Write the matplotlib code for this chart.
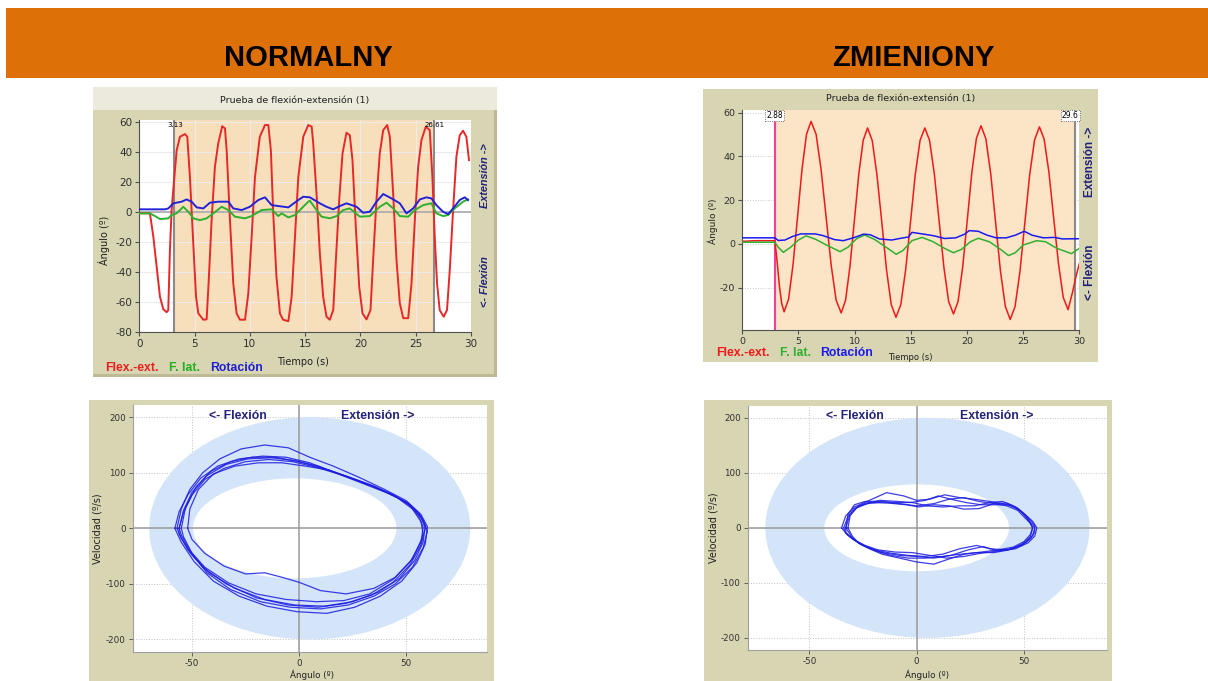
import matplotlib
matplotlib.use("Agg")
import matplotlib.pyplot as plt
from matplotlib.patches import Rectangle, Ellipse

plt.rcParams['axes.unicode_minus'] = False
plt.rcParams['font.family'] = ['DejaVu Sans']

# ---------------- DATA ----------------
panel_titles = ["NORMALNY", "ZMIENIONY"]
chart_title = "Prueba de flexión-extensión (1)"
series_names = ["Flex.-ext.", "F. lat.", "Rotación"]

# Normal: time series (t [s], angle [deg])
normal_flex = [(0.0, -1), (0.96, -1), (1.27, -16.7), (1.57, -36.7), (1.87, -56.7), (2.17, -65),
               (2.47, -67), (2.62, -65.6), (2.77, -25.6), (2.92, 1), (3.17, 23), (3.38, 41),
               (3.68, 50), (4.13, 51.8), (4.34, 50), (4.58, 23), (4.88, -21), (5.13, -56.7),
               (5.34, -67.8), (5.79, -72), (6.09, -71.8), (6.3, -43), (6.54, -5.6), (6.84, 30),
               (7.14, 45.6), (7.5, 57), (7.75, 55.6), (7.9, 41), (8.2, -5.6), (8.5, -47.8),
               (8.8, -67.8), (9.1, -72), (9.56, -72), (9.86, -54.4), (10.16, -16.7), (10.46, 23),
               (10.9, 50), (11.37, 57.8), (11.67, 57.8), (11.9, 41), (12.1, 1), (12.4, -43),
               (12.72, -67.8), (13.0, -72), (13.48, -73), (13.78, -56.7), (14.08, -16.7), (14.38, 23),
               (14.83, 50), (15.28, 57.8), (15.59, 56.7), (15.73, 45.6), (16.03, 12), (16.33, -27.8),
               (16.63, -56.7), (16.93, -70), (17.23, -72), (17.54, -65.6), (17.78, -32), (18.08, 7.8),
               (18.38, 38.9), (18.74, 52.7), (19.04, 51), (19.28, 34.4), (19.58, -10), (19.89, -50),
               (20.19, -67.8), (20.55, -71.8), (20.91, -65.6), (21.15, -32), (21.45, 7.8), (21.75, 38.9),
               (22.06, 54.4), (22.42, 57.8), (22.66, 50), (22.96, 12), (23.26, -32), (23.56, -61),
               (23.87, -71), (24.32, -71), (24.62, -47.8), (24.92, -5.6), (25.22, 30), (25.52, 47.8),
               (25.91, 56.7), (26.27, 54.4), (26.51, 23), (26.72, -16.7), (26.93, -47.8), (27.17, -65.6),
               (27.53, -70), (27.83, -65.6), (28.08, -38.9), (28.38, 1), (28.68, 36.7), (28.98, 51),
               (29.28, 54), (29.58, 50), (29.82, 34.4)]
normal_lat = [(0, -1.1), (0.96, -1.1), (1.42, -2.9), (1.87, -4.9), (2.62, -4.4), (2.92, -2.2), (3.38, -1),
              (3.98, 3.3), (4.43, 0), (4.88, -4.4), (5.49, -5.6), (6.09, -4.4), (6.69, -1.1), (7.45, 3.3),
              (8.05, 1.1), (8.65, -3.3), (9.56, -4.4), (10.16, -2.9), (11.06, 1.1), (11.97, 1.6),
              (12.57, -2.9), (12.87, -1.1), (13.48, -3.8), (14.08, -2.2), (14.68, 2.2), (15.28, 6.7),
              (15.43, 7.3), (16.03, 1.1), (16.48, -3.3), (17.23, -4.4), (17.84, -2.9), (18.44, 1.1),
              (19.04, 2.2), (19.95, -3.3), (20.85, -2.9), (21.75, 3.3), (22.36, 6), (22.96, 2.2),
              (23.56, -2.9), (24.32, -3.3), (24.92, 1.1), (25.67, 4.4), (26.42, 5.6), (26.87, -1.1),
              (27.47, -2.9), (27.93, -2.2), (28.53, 2.2), (29.28, 6.7), (29.73, 8.2)]
normal_rot = [(0, 1.6), (2.32, 1.6), (2.62, 2.2), (3.08, 5.6), (3.83, 6.7), (4.28, 8.2), (4.73, 6.7),
              (5.19, 2.9), (5.79, 2.2), (6.39, 6), (7.14, 6.7), (8.05, 6.7), (8.5, 2.2), (9.26, 1.1),
              (10.0, 3.3), (10.76, 7.8), (11.37, 9.6), (11.97, 4.4), (12.57, 3.8), (13.48, 2.9),
              (14.38, 7.8), (14.83, 10), (15.43, 9.6), (16.33, 5.6), (16.93, 3.3), (17.54, 1.6),
              (18.14, 3.8), (18.74, 5.6), (19.65, 3.3), (20.25, -0.7), (20.85, 0), (21.45, 6.7),
              (22.06, 11.8), (22.81, 8.9), (23.56, 5.6), (24.17, -1.1), (24.77, 2.2), (25.37, 8.2),
              (25.97, 9.6), (26.42, 8.9), (26.87, 4.4), (27.47, 0), (27.93, -1.6), (28.38, 2.2),
              (28.98, 7.8), (29.43, 9.6), (29.73, 7.8)]
normal_markers = [3.13, 26.61]
normal_marker_labels = ["3.13", "26.61"]

# Changed: time series
changed_flex = [(0, 1.2), (1.2, 1.5), (2.9, 1.5), (3.1, -8), (3.3, -19), (3.5, -27), (3.72, -31),
                (4.12, -25.2), (4.52, -9.3), (4.92, 12.5), (5.32, 34.3), (5.72, 50.2), (6.12, 56),
                (6.57, 50.1), (7.01, 34.1), (7.46, 12.3), (7.91, -9.6), (8.35, -25.6), (8.8, -31.5),
                (9.19, -25.8), (9.58, -10.4), (9.98, 10.8), (10.37, 31.9), (10.76, 47.3), (11.15, 53),
                (11.57, 47.2), (11.99, 31.4), (12.42, 9.8), (12.84, -11.9), (13.26, -27.7), (13.68, -33.5),
                (14.11, -27.7), (14.54, -11.9), (14.97, 9.8), (15.39, 31.4), (15.82, 47.2), (16.25, 53),
                (16.67, 47.3), (17.1, 31.8), (17.52, 10.5), (17.95, -10.8), (18.37, -26.3), (18.8, -32),
                (19.21, -26.2), (19.62, -10.5), (20.03, 11), (20.43, 32.5), (20.84, 48.2), (21.25, 54),
                (21.68, 48.1), (22.12, 31.9), (22.55, 9.8), (22.98, -12.4), (23.42, -28.6), (23.85, -34.5),
                (24.28, -28.6), (24.72, -12.5), (25.15, 9.5), (25.58, 31.5), (26.02, 47.6), (26.45, 53.5),
                (26.87, 47.9), (27.3, 32.6), (27.72, 11.8), (28.15, -9.1), (28.57, -24.4), (29.0, -30),
                (29.4, -22), (29.7, -15), (30.0, -9)]
changed_lat = [(0, 0.8), (2.9, 0.8), (3.2, -1.5), (3.65, -3.8), (4.3, -1.5), (5.0, 1.8), (5.67, 3.7),
               (6.5, 2.2), (7.5, -0.5), (8.7, -3.5), (9.4, -1.5), (10.2, 2.5), (10.9, 4.1), (11.8, 2),
               (12.8, -1.5), (13.7, -4.7), (14.3, -3), (15.1, 1.5), (16.0, 3.0), (17.0, 1), (18.0, -2),
               (18.8, -4), (19.5, -2.5), (20.3, 1), (21.0, 2.6), (22.0, 1.0), (23.0, -2.5), (23.7, -5.3),
               (24.3, -4), (25.0, -0.5), (26.2, 1.5), (27.0, 1), (28.0, -2), (29.3, -4.4), (30, -2)]
changed_rot = [(0, 2.8), (2.9, 2.8), (3.2, 1.6), (3.8, 1.8), (4.5, 3.5), (5.2, 4.6), (6.5, 4.6),
               (7.2, 3.8), (8.2, 2), (9.0, 1.5), (10.0, 3), (10.8, 4.5), (11.4, 4.2), (12.2, 2.3),
               (13.3, 1.8), (14.0, 2.5), (14.8, 3.2), (15.1, 5.3), (16.0, 4.6), (17.0, 3.8), (18.0, 2.5),
               (19.0, 2.8), (19.8, 4.5), (20.2, 6.1), (21.0, 5.8), (21.8, 4), (22.6, 2.8), (23.5, 2.8),
               (24.3, 4), (25.1, 5.8), (25.8, 4), (26.8, 2.8), (27.8, 3), (28.5, 2.3), (30, 2.4)]
changed_markers = [2.88, 29.6]
changed_marker_labels = ["2.88", "29.6"]

# Phase loops (angle [deg], velocity [deg/s])
normal_loops = [
    [(-57, 0), (-55, 35), (-51, 70), (-45, 100), (-37, 125), (-27, 143), (-16, 150), (-5, 145), (5, 128),
     (16, 112), (28, 92), (40, 70), (50, 50), (56, 28), (59, 5), (58, -25), (54, -58), (47, -90),
     (37, -115), (25, -132), (12, -140), (-2, -138), (-16, -128), (-30, -108), (-42, -80), (-50, -48),
     (-55, -18), (-57, 0)],
    [(-56, 0), (-54, 32), (-50, 65), (-43, 95), (-34, 115), (-24, 125), (-13, 127), (-2, 122), (9, 112),
     (21, 95), (33, 78), (44, 60), (52, 42), (57, 20), (59, 0), (57, -30), (52, -65), (44, -97),
     (34, -120), (22, -135), (9, -142), (-5, -138), (-20, -125), (-34, -100), (-45, -70), (-52, -38),
     (-56, -10), (-56, 0)],
    [(-52, 0), (-51, 35), (-47, 70), (-40, 98), (-30, 112), (-19, 118), (-8, 118), (3, 112), (14, 105),
     (26, 88), (37, 72), (46, 55), (53, 35), (57, 12), (58, -10), (57, -22), (53, -55), (45, -88),
     (35, -108), (22, -118), (10, -112), (0, -97), (-8, -88), (-16, -80), (-25, -82), (-35, -68),
     (-44, -45), (-50, -20), (-52, 0)],
    [(-58, 0), (-56, 30), (-52, 60), (-46, 90), (-38, 112), (-28, 125), (-17, 130), (-6, 128), (5, 118),
     (17, 100), (29, 82), (41, 64), (51, 46), (57, 25), (60, 3), (59, -28), (55, -62), (48, -95),
     (38, -122), (26, -142), (13, -153), (-1, -150), (-15, -140), (-28, -122), (-40, -95), (-49, -60),
     (-55, -25), (-58, 0)],
    [(-55, 0), (-53, 38), (-48, 75), (-41, 103), (-32, 120), (-22, 128), (-11, 128), (0, 120), (11, 108),
     (23, 93), (35, 76), (45, 58), (53, 38), (58, 15), (60, -5), (58, -35), (53, -70), (45, -100),
     (35, -122), (23, -138), (10, -145), (-4, -142), (-18, -132), (-32, -110), (-43, -80), (-50, -45),
     (-54, -15), (-55, 0)],
    [(-56, 0), (-54, 28), (-50, 60), (-44, 88), (-35, 108), (-25, 120), (-14, 124), (-3, 120), (8, 110),
     (20, 96), (32, 80), (43, 62), (51, 44), (56, 22), (58, 2), (57, -25), (52, -60), (44, -92),
     (33, -118), (21, -130), (8, -132), (-6, -128), (-20, -118), (-33, -98), (-44, -70), (-51, -40),
     (-55, -12), (-56, 0)],
]
changed_loops = [
    [(-35, 0), (-33, 22), (-29, 38), (-22, 50), (-14, 64), (-6, 58), (0, 50), (6, 52), (13, 60), (20, 55),
     (27, 52), (34, 48), (40, 44), (46, 38), (50, 26), (54, 12), (56, 0), (55, -15), (52, -27), (46, -38),
     (38, -42), (31, -34), (24, -40), (16, -50), (8, -55), (0, -52), (-8, -50), (-16, -45), (-23, -35),
     (-28, -25), (-32, -14), (-35, 0)],
    [(-33, 0), (-31, 25), (-27, 40), (-21, 46), (-13, 45), (-5, 42), (1, 38), (8, 42), (15, 40), (22, 34),
     (29, 35), (36, 44), (42, 45), (47, 36), (51, 22), (53, 8), (54, 0), (53, -16), (49, -30), (43, -40),
     (36, -45), (28, -45), (20, -48), (12, -52), (4, -55), (-4, -55), (-12, -50), (-19, -42), (-25, -32),
     (-30, -20), (-33, -8), (-33, 0)],
    [(-32, 0), (-31, 22), (-28, 36), (-23, 44), (-16, 47), (-8, 44), (0, 40), (8, 44), (15, 52), (22, 55),
     (29, 48), (36, 44), (42, 40), (47, 32), (50, 20), (53, 8), (54, 0), (53, -12), (50, -25), (45, -35),
     (38, -40), (30, -44), (22, -48), (14, -58), (8, -66), (0, -62), (-8, -55), (-16, -48), (-22, -38),
     (-27, -28), (-30, -15), (-32, 0)],
    [(-34, 0), (-32, 20), (-29, 35), (-24, 45), (-17, 50), (-9, 48), (-2, 46), (5, 40), (12, 38), (20, 40),
     (27, 40), (34, 46), (40, 48), (45, 40), (49, 28), (52, 14), (55, 0), (54, -14), (51, -26), (45, -38),
     (38, -42), (30, -46), (22, -52), (14, -55), (6, -50), (-2, -45), (-10, -44), (-18, -40), (-24, -32),
     (-29, -22), (-33, -10), (-34, 0)],
    [(-33, 0), (-32, 24), (-29, 42), (-24, 48), (-17, 48), (-10, 46), (-3, 46), (4, 50), (10, 58), (16, 52),
     (23, 46), (30, 42), (37, 42), (43, 42), (48, 32), (52, 18), (55, 4), (55, -8), (53, -20), (49, -32),
     (42, -40), (34, -38), (28, -32), (20, -38), (12, -48), (4, -52), (-4, -50), (-12, -46), (-20, -40),
     (-26, -30), (-30, -18), (-33, 0)],
]

# Reference bands (center x, width, height) for outer / inner ellipse
normal_band = [(5, 150, 400), (-2, 95, 180)]
changed_band = [(5, 151, 400), (0, 86, 158)]

ts_xticks = [0, 5, 10, 15, 20, 25, 30]
normal_yticks = [-80, -60, -40, -20, 0, 20, 40, 60]
changed_yticks = [-20, 0, 20, 40, 60]
phase_xticks = [-50, 0, 50]
phase_yticks = [-200, -100, 0, 100, 200]

# ---------------- FIGURE ----------------
W, H = 1208, 681
fig = plt.figure(figsize=(W / 100, H / 100), dpi=100)
fig.patch.set_facecolor('white')

FRAME = '#D8D5B2'
NAVY = '#22227A'
RED, GREEN, BLUE = '#E62828', '#2EB02E', '#2222D8'


def rect(x0, y0, x1, y1):
    return [x0 / W, 1 - y1 / H, (x1 - x0) / W, (y1 - y0) / H]


def fig_box(x0, y0, x1, y1, color, z=0):
    fig.add_artist(Rectangle((x0 / W, 1 - y1 / H), (x1 - x0) / W, (y1 - y0) / H,
                             transform=fig.transFigure, facecolor=color, edgecolor='none', zorder=z))


def ftext(x, y, s, **kw):
    fig.text(x / W, 1 - y / H, s, **kw)


# banner
fig_box(6, 8, 1208, 78, '#DE7008')
ftext(308, 58, panel_titles[0], ha='center', va='center', fontsize=21, fontweight='bold',
      family='Liberation Sans', color='black')
ftext(913, 58, panel_titles[1], ha='center', va='center', fontsize=21, fontweight='bold',
      family='Liberation Sans', color='black')


def ts_panel(frame, plot, ylim, yticks, flex, lat, rot, markers, mlabels, style):
    fig_box(*frame, FRAME)
    ax = fig.add_axes(rect(*plot))
    ax.set_facecolor('white')
    ax.set_xlim(0, 30)
    ax.set_ylim(*ylim)
    ax.set_xticks(ts_xticks)
    ax.set_yticks(yticks)
    ax.axvspan(markers[0], markers[1], color=style['span'], zorder=1, lw=0)
    if style['grid'] == 'solid':
        for v in yticks:
            ax.axhline(v, color='#ECECEC', lw=0.8, zorder=1.5)
        for v in ts_xticks:
            ax.axvline(v, color='#ECECEC', lw=0.8, zorder=1.5)
        ax.axhline(0, color='#A8A8A8', lw=1.2, zorder=2)
    else:
        for v in yticks:
            ax.axhline(v, color='#C8C8C8', lw=0.7, ls=':', zorder=0.5)
    ax.axvline(markers[0], color=style['m0'], lw=1.5, zorder=2)
    ax.axvline(markers[1], color='#8A8A8A', lw=1.5, zorder=2)
    for data, c in ((flex, style['red']), (lat, style['green']), (rot, style['blue'])):
        ax.plot([p[0] for p in data], [p[1] for p in data], color=c, lw=style['lw'], zorder=3)
    for s in ('top', 'right'):
        ax.spines[s].set_visible(False)
    for s in ('left', 'bottom'):
        ax.spines[s].set_color('#505050')
    ax.tick_params(direction='out', length=3, width=0.8, color='#505050',
                   labelsize=style['tick'], labelcolor='#303030', pad=2)
    return ax


# ---- top-left (normal) ----
ax1 = ts_panel((93, 87, 497, 377), (139.3, 119.5, 471, 331.7), (-80, 61.5), normal_yticks,
               normal_flex, normal_lat, normal_rot, normal_markers, normal_marker_labels,
               dict(span='#F8DFBC', grid='solid', m0='#8A8A8A', red=RED, green=GREEN, blue=BLUE,
                    lw=1.4, tick=7.5))
fig_box(93, 87, 497, 110, '#ECEADC', z=0.1)
fig_box(494, 110, 497, 377, '#BDBA94', z=0.1)
fig_box(93, 374, 497, 377, '#BDBA94', z=0.1)
for m, lab, ha in zip(normal_markers, normal_marker_labels, ('left', 'right')):
    ax1.text(m + (0.1 if ha == 'right' else -0.6), 59.5, lab, fontsize=5,
             ha='left' if ha == 'left' else 'center', va='top', color='black', zorder=5)
ftext(295, 101, chart_title, ha='center', va='center', fontsize=6.8, color='#202020')
ftext(104, 240, "Ángulo (º)", rotation=90, ha='center', va='center', fontsize=7, color='#202020')
ftext(303, 362, "Tiempo (s)", ha='center', va='center', fontsize=7, color='#202020')
ftext(105, 368, series_names[0], ha='left', va='center', fontsize=8.8, fontweight='bold',
      family='Liberation Sans', color='#E82020')
ftext(169, 368, series_names[1], ha='left', va='center', fontsize=8.8, fontweight='bold',
      family='Liberation Sans', color='#22B022')
ftext(210, 368, series_names[2], ha='left', va='center', fontsize=8.8, fontweight='bold',
      family='Liberation Sans', color='#2020D0')
ftext(485, 176, "Extensión ->", rotation=90, ha='center', va='center', fontsize=7.8, fontweight='bold',
      fontstyle='italic', family='Liberation Sans', color=NAVY)
ftext(485, 282, "<- Flexión", rotation=90, ha='center', va='center', fontsize=7.8, fontweight='bold',
      fontstyle='italic', family='Liberation Sans', color=NAVY)

# ---- top-right (changed) ----
ax2 = ts_panel((703, 89, 1098, 362), (742.3, 110, 1079.3, 330), (-39.3, 61.2), changed_yticks,
               changed_flex, changed_lat, changed_rot, changed_markers, changed_marker_labels,
               dict(span='#FBE5C6', grid='dotted', m0='#F0409A', red='#F01818', green='#30B030',
                    blue='#1A1AF0', lw=1.1, tick=6.8))
ax2.text(changed_markers[0], 60.8, changed_marker_labels[0], fontsize=5.5, ha='center', va='top', zorder=5,
         bbox=dict(facecolor='white', edgecolor='#444444', linestyle=':', lw=0.6, pad=0.8))
ax2.text(29.95, 60.8, changed_marker_labels[1], fontsize=5.5, ha='right', va='top', zorder=5,
         bbox=dict(facecolor='white', edgecolor='#444444', linestyle=':', lw=0.6, pad=0.8))
ftext(901, 99, chart_title, ha='center', va='center', fontsize=6.8, color='#202020')
ftext(713, 221, "Ángulo (º)", rotation=90, ha='center', va='center', fontsize=6.5, color='#202020')
ftext(910, 357, "Tiempo (s)", ha='center', va='center', fontsize=6, color='#202020')
ftext(716, 353, series_names[0], ha='left', va='center', fontsize=8.8, fontweight='bold',
      family='Liberation Sans', color='#F01818')
ftext(780, 353, series_names[1], ha='left', va='center', fontsize=8.8, fontweight='bold',
      family='Liberation Sans', color='#30B030')
ftext(820, 353, series_names[2], ha='left', va='center', fontsize=8.8, fontweight='bold',
      family='Liberation Sans', color='#1A1AF0')
ftext(1090, 162, "Extensión ->", rotation=90, ha='center', va='center', fontsize=8.5, fontweight='bold',
      family='Liberation Sans', color=NAVY)
ftext(1090, 272, "<- Flexión", rotation=90, ha='center', va='center', fontsize=8.5, fontweight='bold',
      family='Liberation Sans', color=NAVY)


def phase_panel(frame, plot, xlim, band, loops, lab_x):
    fig_box(*frame, FRAME)
    ax = fig.add_axes(rect(*plot))
    ax.set_facecolor('white')
    ax.set_xlim(*xlim)
    ax.set_ylim(-222, 222)
    ax.set_xticks(phase_xticks)
    ax.set_yticks(phase_yticks)
    for v in phase_yticks:
        ax.axhline(v, color='#C4C4C4', lw=0.7, ls=':', zorder=0.5)
    for v in phase_xticks:
        ax.axvline(v, color='#C4C4C4', lw=0.7, ls=':', zorder=0.5)
    (cx0, w0, h0), (cx1, w1, h1) = band
    ax.add_patch(Ellipse((cx0, 0), w0, h0, facecolor='#D4E5FA', edgecolor='none', zorder=1))
    ax.add_patch(Ellipse((cx1, 0), w1, h1, facecolor='white', edgecolor='none', zorder=1.1))
    ax.axhline(0, color='#9A9A9A', lw=1.1, zorder=2)
    ax.axvline(0, color='#9A9A9A', lw=1.1, zorder=2)
    for loop in loops:
        ax.plot([p[0] for p in loop], [p[1] for p in loop], color='#1C1CE0', lw=0.9,
                alpha=0.85, zorder=3)
    for s in ('top', 'right'):
        ax.spines[s].set_visible(False)
    for s in ('left', 'bottom'):
        ax.spines[s].set_color('#A0A0A0')
    ax.tick_params(direction='out', length=3, width=0.7, color='#606060',
                   labelsize=6.3, labelcolor='#303030', pad=2)
    y_top = plot[1] + 10.7
    ftext(lab_x[0], y_top, "<- Flexión", ha='center', va='center', fontsize=8.8, fontweight='bold',
          family='Liberation Sans', color=NAVY)
    ftext(lab_x[1], y_top, "Extensión ->", ha='center', va='center', fontsize=8.8, fontweight='bold',
          family='Liberation Sans', color=NAVY)
    ftext(frame[0] + 9, (plot[1] + plot[3]) / 2, "Velocidad (º/s)", rotation=90, ha='center',
          va='center', fontsize=7, color='#202020')
    ftext(lab_x[2], 680.5, "Ángulo (º)", ha='center', va='bottom', fontsize=6.3, color='#202020')
    return ax


ax3 = phase_panel((89, 400, 494, 681), (132.7, 405, 486.7, 651.7), (-77.7, 87.7),
                  normal_band, normal_loops, (238, 378, 312))
ax4 = phase_panel((704, 400, 1112, 681), (747.7, 405.7, 1107.3, 650), (-78.7, 88.8),
                  changed_band, changed_loops, (855, 997, 927))

fig.savefig('out.png', dpi=100, facecolor='white')
